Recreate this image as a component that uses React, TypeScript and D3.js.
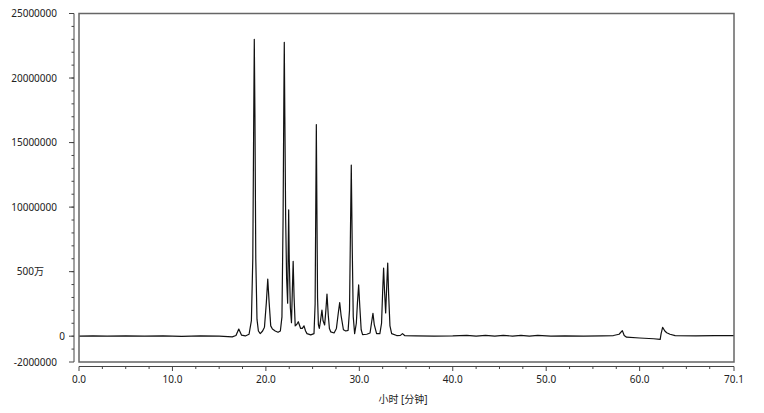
import { useEffect, useRef } from 'react';
import * as d3 from 'd3';

// retention time [min], signal [millions of counts]
const trace: [number, number][] = [
  [0, 0.0], [1.5, 0.02], [3, 0.0], [5, 0.03], [7, 0.0], [9, 0.02], [11, -0.01],
  [13, 0.02], [15, 0.0], [16.4, -0.05], [16.8, 0.05], [17.1, 0.55], [17.4, 0.08],
  [17.8, 0.02], [18.2, 0.15], [18.45, 1.2], [18.6, 6], [18.7, 17], [18.76, 23.0],
  [18.83, 17], [18.92, 6], [19.05, 1.3], [19.2, 0.4], [19.4, 0.2], [19.65, 0.4],
  [19.85, 0.7], [20.05, 2.6], [20.2, 4.43], [20.35, 2.6], [20.52, 0.8], [20.7, 0.55],
  [21.0, 0.4], [21.3, 0.3], [21.55, 0.4], [21.72, 1.5], [21.84, 9], [21.92, 18],
  [21.97, 22.77], [22.03, 17], [22.12, 9], [22.22, 4.5], [22.33, 2.55], [22.38, 6],
  [22.44, 9.78], [22.5, 6], [22.62, 2.2], [22.74, 1.05], [22.82, 3.2], [22.92, 5.8],
  [23.02, 3.0], [23.14, 0.8], [23.3, 0.9], [23.47, 1.12], [23.72, 0.6], [23.9, 0.6],
  [24.08, 0.8], [24.25, 0.4], [24.4, 0.2], [24.8, 0.1], [25.15, 0.2], [25.27, 2.5],
  [25.34, 10], [25.4, 16.4], [25.46, 10], [25.53, 3], [25.62, 0.9], [25.72, 0.6],
  [25.85, 1.2], [26.0, 2.03], [26.12, 1.2], [26.29, 0.87], [26.42, 2.0], [26.54, 3.27],
  [26.68, 1.6], [26.8, 0.6], [26.95, 0.33], [27.3, 0.25], [27.55, 0.6], [27.75, 1.8],
  [27.9, 2.6], [28.05, 1.6], [28.3, 0.5], [28.55, 0.4], [28.8, 0.45], [28.95, 2.0],
  [29.05, 8], [29.14, 13.26], [29.24, 7], [29.35, 1.5], [29.5, 0.2], [29.68, 1.0],
  [29.8, 2.6], [29.93, 3.97], [30.06, 2.2], [30.2, 0.5], [30.35, 0.12], [30.8, 0.15],
  [31.15, 0.25], [31.3, 1.0], [31.46, 1.77], [31.6, 0.9], [31.85, 0.2], [32.2, 0.2],
  [32.38, 1.0], [32.5, 3.5], [32.6, 5.28], [32.7, 3.5], [32.82, 1.8], [32.94, 4.0],
  [33.04, 5.67], [33.14, 3.2], [33.28, 0.8], [33.46, 0.2], [34.0, 0.05], [34.4, 0.06],
  [34.62, 0.2], [34.85, 0.05], [36, 0.03], [38, 0.0], [40, 0.02], [41.5, 0.07],
  [42.5, 0.0], [43.5, 0.07], [44.5, 0.0], [45.4, 0.07], [46.4, 0.0], [47.3, 0.07],
  [48.2, 0.0], [49.1, 0.07], [50.5, 0.0], [52, 0.02], [54, 0.0], [56, 0.02],
  [57.2, 0.05], [57.8, 0.15], [58.15, 0.43], [58.35, 0.05], [58.6, -0.08], [60, -0.14],
  [61.5, -0.2], [62.2, -0.24], [62.3, 0.2], [62.46, 0.69], [62.7, 0.4], [62.9, 0.27],
  [63.25, 0.15], [63.8, 0.04], [66, 0.03], [68, 0.05], [70.1, 0.04],
];

const xMajorTicks = [0, 10, 20, 30, 40, 50, 60, 70.1];
const xMajorLabels = ['0.0', '10.0', '20.0', '30.0', '40.0', '50.0', '60.0', '70.1'];
const xMinorTicks = [2.5, 5, 7.5, 12.5, 15, 17.5, 22.5, 25, 27.5, 32.5, 35, 37.5, 42.5, 45, 47.5, 52.5, 55, 57.5, 62.5, 65, 67.5];

const yMajorTicks = [-2, 0, 5, 10, 15, 20, 25];
const yMajorLabels = ['-2000000', '0', '500万', '10000000', '15000000', '20000000', '25000000'];
const yMinorTicks = d3.range(-1, 25);

const xTitle = '小时 [分钟]';

export default function App() {
  const svgRef = useRef<SVGSVGElement>(null);

  useEffect(() => {
    if (!svgRef.current) return;
    const svg = d3.select(svgRef.current);
    svg.selectAll('*').remove();

    const left = 79;
    const right = 734;
    const top = 13.5;
    const bottom = 362;
    const font = '"Noto Sans", "Noto Sans CJK SC", sans-serif';

    const x = d3.scaleLinear().domain([0, 70.1]).range([left, right]);
    const y = d3.scaleLinear().domain([-2, 25]).range([bottom, top]);

    // odd label placement of the source software
    const labelEnd: Record<string, number> = { '0': 65, '500万': 44 };

    svg.append('defs').append('clipPath').attr('id', 'plot-clip')
      .append('rect')
      .attr('x', left).attr('y', top)
      .attr('width', right - left).attr('height', bottom - top);

    // trace
    const line = d3.line<[number, number]>()
      .x((d) => x(d[0]))
      .y((d) => y(d[1]));

    svg.append('path')
      .datum(trace)
      .attr('clip-path', 'url(#plot-clip)')
      .attr('fill', 'none')
      .attr('stroke', '#111')
      .attr('stroke-width', 1.2)
      .attr('stroke-linejoin', 'round')
      .attr('d', line);

    // frame
    svg.append('rect')
      .attr('x', left).attr('y', top)
      .attr('width', right - left).attr('height', bottom - top)
      .attr('fill', 'none')
      .attr('stroke', '#666')
      .attr('stroke-width', 1.5);

    // y axis
    const yAxisX = 74;
    svg.append('line')
      .attr('x1', yAxisX).attr('x2', yAxisX)
      .attr('y1', y(25)).attr('y2', y(-2))
      .attr('stroke', '#444');

    yMinorTicks.forEach((v) => {
      svg.append('line')
        .attr('x1', yAxisX - 2.5).attr('x2', yAxisX)
        .attr('y1', y(v)).attr('y2', y(v))
        .attr('stroke', '#444');
    });

    yMajorTicks.forEach((v, i) => {
      svg.append('line')
        .attr('x1', yAxisX - 5).attr('x2', yAxisX)
        .attr('y1', y(v)).attr('y2', y(v))
        .attr('stroke', '#444');
      const label = yMajorLabels[i];
      svg.append('text')
        .attr('x', labelEnd[label] ?? 57)
        .attr('y', y(v))
        .attr('dy', '0.35em')
        .attr('text-anchor', 'end')
        .attr('font-family', font)
        .attr('font-size', 10)
        .attr('fill', '#222')
        .text(label);
    });

    // x axis
    const xAxisY = 366.5;
    svg.append('line')
      .attr('x1', x(0)).attr('x2', x(70.1))
      .attr('y1', xAxisY).attr('y2', xAxisY)
      .attr('stroke', '#444');

    xMinorTicks.forEach((v) => {
      svg.append('line')
        .attr('x1', x(v)).attr('x2', x(v))
        .attr('y1', xAxisY).attr('y2', xAxisY + 2.5)
        .attr('stroke', '#444');
    });

    xMajorTicks.forEach((v, i) => {
      svg.append('line')
        .attr('x1', x(v)).attr('x2', x(v))
        .attr('y1', xAxisY).attr('y2', xAxisY + 4.5)
        .attr('stroke', '#444');
      svg.append('text')
        .attr('x', x(v))
        .attr('y', 379.5)
        .attr('dy', '0.35em')
        .attr('text-anchor', 'middle')
        .attr('font-family', font)
        .attr('font-size', 10)
        .attr('fill', '#222')
        .text(xMajorLabels[i]);
    });

    svg.append('text')
      .attr('x', 403)
      .attr('y', 399)
      .attr('dy', '0.35em')
      .attr('text-anchor', 'middle')
      .attr('font-family', font)
      .attr('font-size', 10)
      .attr('fill', '#222')
      .text(xTitle);
  }, []);

  return (
    <svg
      ref={svgRef}
      width={764}
      height={413}
      style={{ position: 'absolute', left: 0, top: 0, background: '#fff' }}
    />
  );
}
